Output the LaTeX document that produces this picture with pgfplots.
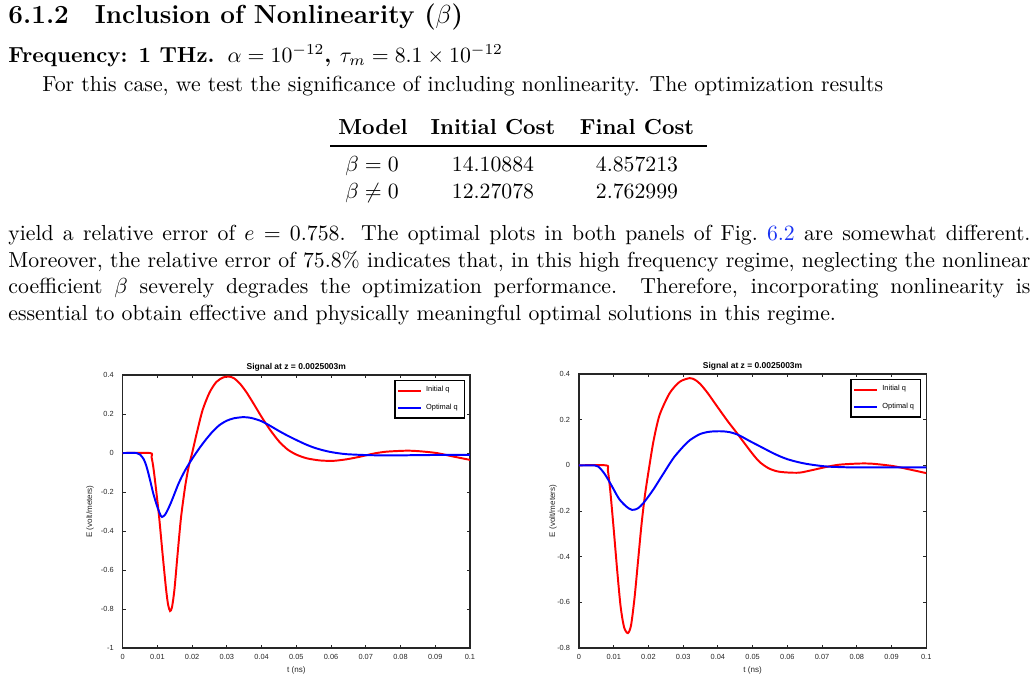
\documentclass[border=0pt]{standalone}
\usepackage{pgfplots}
\pgfplotsset{compat=1.18}
\usepackage{fontspec}
\newfontfamily\plotfont{Liberation Sans}
\definecolor{mgray}{rgb}{0.15,0.15,0.15}
\definecolor{refblue}{rgb}{0.1,0.2,0.95}
\newcommand{\tickfont}{\plotfont\fontsize{3.4}{4}\selectfont}
\newcommand{\legfont}{\plotfont\fontsize{3.4}{4}\selectfont}
\newcommand{\labfont}{\plotfont\fontsize{3.7}{4.3}\selectfont}
\newcommand{\titfont}{\plotfont\bfseries\fontsize{3.9}{4.5}\selectfont}
\pgfplotsset{matstyle/.style={
  scale only axis, width=159.6pt, height=125.5pt,
  xmin=0, xmax=0.1,
  xtick={0,0.01,0.02,0.03,0.04,0.05,0.06,0.07,0.08,0.09,0.1},
  xticklabels={0,0.01,0.02,0.03,0.04,0.05,0.06,0.07,0.08,0.09,0.1},
  tick align=inside, major tick length=1.5pt,
  tick style={mgray, line width=0.4pt},
  axis line style={mgray, line width=0.6pt},
  ticklabel style={font=\tickfont, text=mgray},
  xticklabel style={anchor=center, yshift=-4.1pt},
  yticklabel style={anchor=east, xshift=-0.6pt},
  every axis title/.style={font=\titfont, at={(0.5,1)}, anchor=base, yshift=2.4pt},
  xlabel style={font=\labfont, text=mgray, at={(axis description cs:0.5,0)}, anchor=center, yshift=-10.1pt},
  legend style={at={(0.986,0.982)}, anchor=north east, font=\legfont, draw=black, line width=0.7pt,
    inner xsep=1.0pt, inner ysep=0.6pt, row sep=0pt, fill=white, cells={anchor=west}},
  legend image code/.code={\draw[#1] (0pt,0pt) -- (10.5pt,0pt);},
  legend cell align=left,
  scaled ticks=false,
  every axis plot/.append style={smooth, tension=0.45},
}}
\begin{document}
\begin{tikzpicture}
\begin{scope}[x=0.4596pt, y=-0.4596pt]
\path[use as bounding box] (0,0) rectangle (1034,680);
\node[anchor=base west, inner sep=0] at (8,23) {\large\bfseries 6.1.2\quad Inclusion of Nonlinearity ($\beta$)};
\node[anchor=base west, inner sep=0] at (8,62) {\bfseries Frequency: 1 THz.\hspace{0.6em}$\alpha=10^{-12}$, $\tau_m = 8.1\times10^{-12}$};
\node[anchor=base west, inner sep=0] at (42,91) {For this case, we test the significance of including nonlinearity. The optimization results};
\node[anchor=base] at (373,134) {\bfseries Model};
\node[anchor=base] at (493,134) {\bfseries Initial Cost};
\node[anchor=base] at (637,134) {\bfseries Final Cost};
\draw[line width=0.6pt] (330,146) -- (707,146);
\node[anchor=base] at (372,171) {$\beta = 0$};
\node[anchor=base] at (493,171) {14.10884};
\node[anchor=base] at (637,171) {4.857213};
\node[anchor=base] at (372,198) {$\beta \neq 0$};
\node[anchor=base] at (493,198) {12.27078};
\node[anchor=base] at (637,198) {2.762999};
\node[anchor=base west, inner sep=0] at (8,240) {\makebox[469.75pt][s]{yield a relative error of $e = 0.758$. The optimal plots in both panels of Fig.~\textcolor{refblue}{6.2} are somewhat different.}};
\node[anchor=base west, inner sep=0] at (8,267) {\makebox[469.75pt][s]{Moreover, the relative error of 75.8\% indicates that, in this high frequency regime, neglecting the nonlinear}};
\node[anchor=base west, inner sep=0] at (8,293) {\makebox[469.75pt][s]{coefficient $\beta$ severely degrades the optimization performance. Therefore, incorporating nonlinearity is}};
\node[anchor=base west, inner sep=0] at (8,320) {essential to obtain effective and physically meaningful optimal solutions in this regime.};
\end{scope}

\begin{axis}[matstyle, at={(56.39pt,-172.35pt)}, anchor=north west,
  ymin=-1, ymax=0.4,
  ytick={-1,-0.8,-0.6,-0.4,-0.2,0,0.2,0.4},
  yticklabels={-1,-0.8,-0.6,-0.4,-0.2,0,0.2,0.4},
  title={Signal at z = 0.0025003m}, xlabel={t (ns)}, ylabel={E (volt/meters)},
  ylabel style={font=\labfont, text=mgray, at={(axis description cs:-0.094,0.5)}, anchor=center}]
\addplot[red, line width=0.9pt] coordinates {
(0,0) (0.0079,0) (0.0083,-0.02) (0.0088,-0.07) (0.0095,-0.17) (0.0105,-0.33) (0.0115,-0.52) (0.0125,-0.70) (0.0131,-0.78) (0.01365,-0.81) (0.0142,-0.79) (0.0149,-0.70) (0.0158,-0.52) (0.0168,-0.33) (0.0180,-0.17) (0.0190,-0.07) (0.0200,0.0) (0.0213,0.10) (0.0230,0.22) (0.0250,0.31) (0.0270,0.365) (0.0290,0.388) (0.0305,0.392) (0.032,0.384) (0.0338,0.355) (0.0357,0.31) (0.0378,0.25) (0.040,0.185) (0.0424,0.12) (0.0450,0.06) (0.0475,0.018) (0.050,-0.008) (0.053,-0.027) (0.0568,-0.038) (0.0607,-0.04) (0.0645,-0.032) (0.0683,-0.019) (0.0722,-0.003) (0.076,0.007) (0.0818,0.012) (0.0856,0.009) (0.0904,0) (0.0952,-0.018) (0.1,-0.035)};
\addlegendentry{Initial q}
\addplot[blue, line width=0.9pt] coordinates {
(0,0) (0.0040,0) (0.0050,-0.008) (0.0060,-0.03) (0.0067,-0.06) (0.0074,-0.104) (0.0081,-0.155) (0.0088,-0.207) (0.0096,-0.255) (0.0103,-0.292) (0.0108,-0.315) (0.0113,-0.328) (0.0122,-0.316) (0.0130,-0.29) (0.0140,-0.25) (0.0150,-0.205) (0.0160,-0.16) (0.0170,-0.122) (0.0180,-0.088) (0.0190,-0.058) (0.0200,-0.03) (0.0210,-0.003) (0.0225,0.035) (0.0240,0.07) (0.0260,0.112) (0.0280,0.145) (0.0300,0.166) (0.0320,0.178) (0.0347,0.184) (0.037,0.18) (0.040,0.163) (0.0427,0.137) (0.0453,0.11) (0.0477,0.087) (0.0501,0.066) (0.0525,0.046) (0.0549,0.029) (0.0573,0.016) (0.0597,0.006) (0.0621,-0.001) (0.0645,-0.006) (0.0693,-0.01) (0.0741,-0.012) (0.08,-0.012) (0.0837,-0.011) (0.09,-0.01) (0.1,-0.009)};
\addlegendentry{Optimal q}
\end{axis}

\begin{axis}[matstyle, at={(266.1pt,-171.9pt)}, anchor=north west, height=125.9pt,
  ymin=-0.8, ymax=0.4,
  ytick={-0.8,-0.6,-0.4,-0.2,0,0.2,0.4},
  yticklabels={-0.8,-0.6,-0.4,-0.2,0,0.2,0.4},
  title={Signal at z = 0.0025003m}, xlabel={t (ns)}, ylabel={E (volt/meters)},
  ylabel style={font=\labfont, text=mgray, at={(axis description cs:-0.075,0.5)}, anchor=center}]
\addplot[red, line width=0.9pt] coordinates {
(0,0) (0.0078,0) (0.0083,-0.02) (0.0090,-0.11) (0.0100,-0.28) (0.0110,-0.46) (0.0120,-0.62) (0.0130,-0.71) (0.0141,-0.735) (0.0150,-0.70) (0.0160,-0.58) (0.0170,-0.42) (0.0180,-0.26) (0.0190,-0.13) (0.0203,0) (0.0215,0.11) (0.0232,0.22) (0.0261,0.316) (0.029,0.366) (0.0319,0.382) (0.0335,0.374) (0.035,0.355) (0.037,0.318) (0.039,0.275) (0.041,0.232) (0.043,0.19) (0.0453,0.145) (0.0475,0.1) (0.050,0.05) (0.052,0.015) (0.0545,-0.012) (0.057,-0.026) (0.0597,-0.031) (0.0635,-0.032) (0.0674,-0.02) (0.0712,-0.007) (0.075,0.003) (0.0808,0.008) (0.0846,0.007) (0.0904,-0.003) (0.0952,-0.018) (0.1,-0.034)};
\addlegendentry{Initial q}
\addplot[blue, line width=0.9pt] coordinates {
(0,0) (0.0045,0) (0.0055,-0.005) (0.0065,-0.02) (0.0075,-0.04) (0.0085,-0.065) (0.0098,-0.10) (0.0108,-0.128) (0.0117,-0.150) (0.0127,-0.167) (0.0136,-0.180) (0.0145,-0.19) (0.0153,-0.195) (0.016,-0.194) (0.0170,-0.188) (0.0184,-0.168) (0.0203,-0.13) (0.0218,-0.097) (0.0232,-0.063) (0.0247,-0.027) (0.0261,0.007) (0.0275,0.038) (0.029,0.065) (0.0305,0.09) (0.0319,0.11) (0.0335,0.126) (0.0350,0.138) (0.0370,0.146) (0.039,0.149) (0.0415,0.149) (0.0435,0.145) (0.0453,0.137) (0.0472,0.123) (0.0491,0.107) (0.0515,0.088) (0.0539,0.069) (0.0558,0.054) (0.0578,0.04) (0.060,0.027) (0.0626,0.016) (0.065,0.008) (0.0674,0.002) (0.070,-0.003) (0.0722,-0.006) (0.0760,-0.008) (0.080,-0.009) (0.1,-0.009)};
\addlegendentry{Optimal q}
\end{axis}
\end{tikzpicture}
\end{document}
